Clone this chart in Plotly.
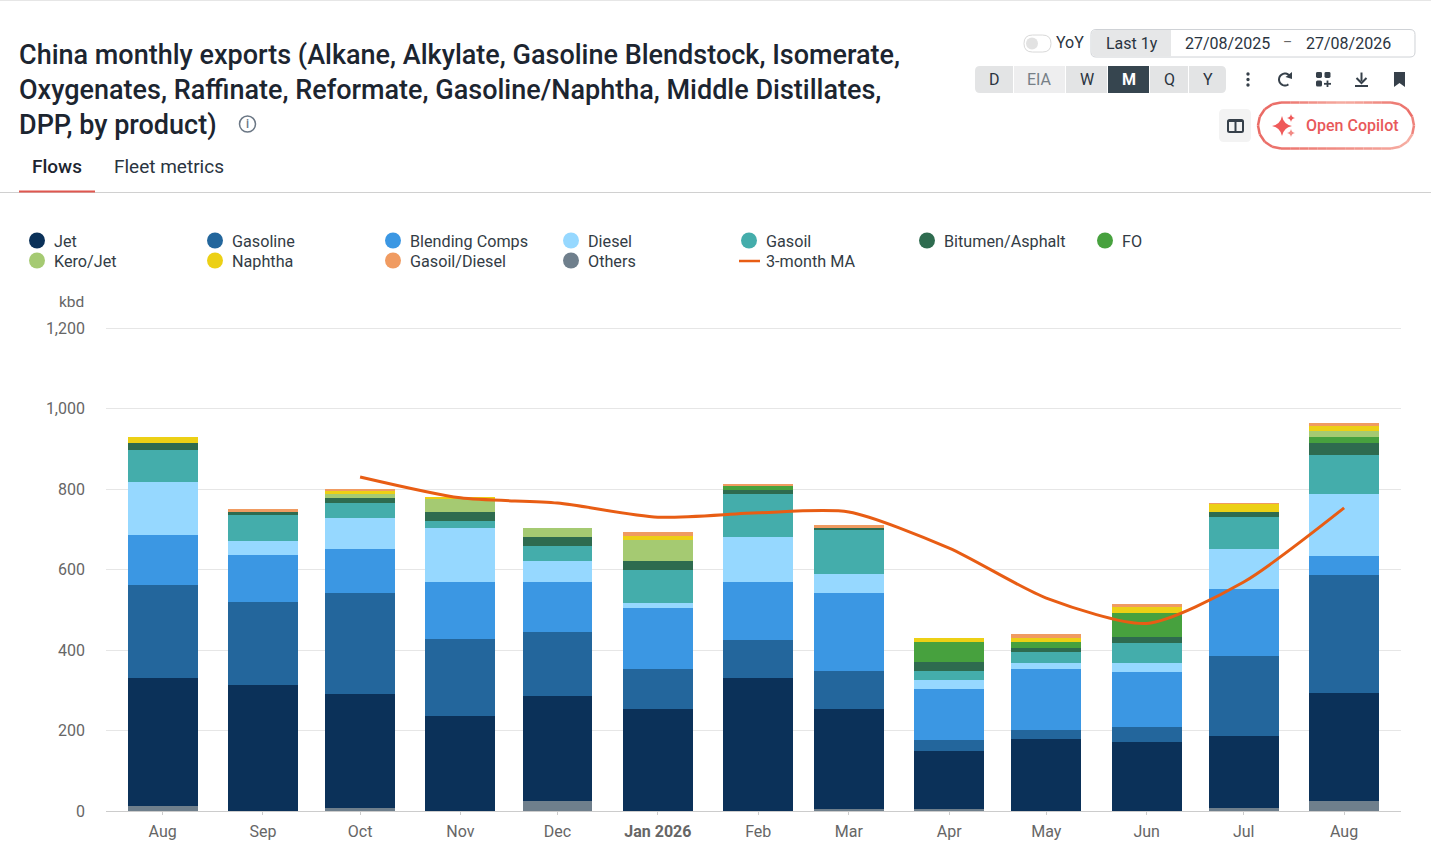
import math
import plotly.graph_objects as go

# ---------- data ----------
dates = ["2025-08-01", "2025-09-01", "2025-10-01", "2025-11-01", "2025-12-01", "2026-01-01", "2026-02-01",
         "2026-03-01", "2026-04-01", "2026-05-01", "2026-06-01", "2026-07-01", "2026-08-01"]
tick_labels = ["Aug", "Sep", "Oct", "Nov", "Dec", "<b>Jan 2026</b>", "Feb", "Mar", "Apr", "May", "Jun", "Jul", "Aug"]

others        = [12, 0, 7, 0, 26, 0, 0, 5, 6, 0, 0, 8, 26]
jet           = [318, 313, 283, 236, 260, 253, 330, 248, 143, 178, 172, 178, 267]
gasoline      = [231, 206, 251, 191, 159, 100, 94, 94, 27, 24, 36, 198, 293]
blending      = [124, 117, 111, 141, 124, 151, 144, 195, 128, 151, 138, 167, 47]
diesel        = [132, 35, 77, 136, 52, 14, 112, 48, 22, 15, 21, 100, 155]
gasoil        = [81, 64, 37, 16, 37, 82, 107, 108, 23, 26, 51, 80, 97]
bitumen       = [17, 7, 12, 22, 22, 22, 10, 5, 20, 10, 15, 12, 30]
fuel_oil      = [0, 0, 0, 0, 0, 0, 11, 0, 50, 17, 60, 0, 13]
kero_jet      = [0, 0, 10, 32, 24, 51, 0, 0, 0, 0, 0, 0, 16]
naphtha       = [13, 0, 8, 7, 0, 10, 0, 0, 10, 10, 15, 20, 12]
gasoil_diesel = [0, 9, 4, 0, 0, 9, 2, 7, 0, 10, 7, 2, 9]
ma_3m         = [None, None, 830, 778, 765, 730, 741, 743, 653, 529, 466, 569, 753]

y_ticks = [0, 200, 400, 600, 800, 1000, 1200]

# stack order, bottom to top
stack = [("Others", others, "#6f7f8c"), ("Jet", jet, "#0b3159"), ("Gasoline", gasoline, "#23669c"),
         ("Blending Comps", blending, "#3b97e3"), ("Diesel", diesel, "#96d8ff"), ("Gasoil", gasoil, "#44adab"),
         ("Bitumen/Asphalt", bitumen, "#2e6b4f"), ("FO", fuel_oil, "#47a13e"), ("Kero/Jet", kero_jet, "#a5ca72"),
         ("Naphtha", naphtha, "#ecd015"), ("Gasoil/Diesel", gasoil_diesel, "#f09b61")]
legend_rows = [["Jet", "Gasoline", "Blending Comps", "Diesel", "Gasoil", "Bitumen/Asphalt", "FO"],
               ["Kero/Jet", "Naphtha", "Gasoil/Diesel", "Others", "3-month MA"]]
MA_COLOR = "#e85d14"

# ---------- page geometry ----------
W, H = 1431, 865
L, R, T, B = 106, 1401, 328, 811
Y_MAX = 1205                                   # a little headroom so the 1,200 gridline is kept
PLOT_TOP = B - (B - T) * Y_MAX / 1200
FONT = "Roboto"
DARK = "#1c2530"

def px(x):
    return (x - L) / (R - L)

def py(y):
    return (B - y) / (B - PLOT_TOP)

def P(x, y):
    return f"{px(x):.5f},{py(y):.5f}"

shapes = []
annos = []

def path(d, fill=None, line=None, lw=1):
    shapes.append(dict(type="path", xref="paper", yref="paper", path=d, layer="above",
                       fillcolor=fill or "rgba(0,0,0,0)",
                       line=dict(color=line or "rgba(0,0,0,0)", width=lw if line else 0)))

def rrect(x0, y0, x1, y1, r=5, fill=None, line=None, lw=1, left=True, right=True):
    rl = r if left else 0
    rr = r if right else 0
    d = (f"M{P(x0 + rl, y0)} L{P(x1 - rr, y0)} Q{P(x1, y0)} {P(x1, y0 + rr)} L{P(x1, y1 - rr)} "
         f"Q{P(x1, y1)} {P(x1 - rr, y1)} L{P(x0 + rl, y1)} Q{P(x0, y1)} {P(x0, y1 - rl)} "
         f"L{P(x0, y0 + rl)} Q{P(x0, y0)} {P(x0 + rl, y0)} Z")
    path(d, fill, line, lw)

def seg(x0, y0, x1, y1, color, lw=1):
    path(f"M{P(x0, y0)} L{P(x1, y1)}", None, color, lw)

def circle(cx, cy, r, fill=None, line=None, lw=1):
    shapes.append(dict(type="circle", xref="paper", yref="paper", layer="above",
                       x0=px(cx - r), x1=px(cx + r), y0=py(cy + r), y1=py(cy - r),
                       fillcolor=fill or "rgba(0,0,0,0)",
                       line=dict(color=line or "rgba(0,0,0,0)", width=lw if line else 0)))

def star(cx, cy, r, color):
    k = r * 0.16
    path(f"M{P(cx, cy - r)} Q{P(cx + k, cy - k)} {P(cx + r, cy)} Q{P(cx + k, cy + k)} {P(cx, cy + r)} "
         f"Q{P(cx - k, cy + k)} {P(cx - r, cy)} Q{P(cx - k, cy - k)} {P(cx, cy - r)} Z", color)

def txt(x, y, text, size=16, color=DARK, anchor="left", weight=400):
    annos.append(dict(xref="paper", yref="paper", x=px(x), y=py(y), text=text, showarrow=False,
                      xanchor=anchor, yanchor="middle", borderpad=0, borderwidth=0,
                      font=dict(family=FONT, size=size, color=color, weight=weight)))

def mix(a, b, t):
    t = max(0, min(1, t))
    ca = [int(a[i:i + 2], 16) for i in (1, 3, 5)]
    cb = [int(b[i:i + 2], 16) for i in (1, 3, 5)]
    return "#" + "".join(f"{round(u + (v - u) * t):02x}" for u, v in zip(ca, cb))

# top hairline, tab rule
seg(0, 0.5, W, 0.5, "#e6e6e6", 1)
seg(0, 192.5, W, 192.5, "#d0d0d0", 1)
seg(19, 191.5, 95, 191.5, "#e0574f", 2)

# title
txt(19, 55, "China monthly exports (Alkane, Alkylate, Gasoline Blendstock, Isomerate,", 27, DARK, weight=500)
txt(19, 90, "Oxygenates, Raffinate, Reformate, Gasoline/Naphtha, Middle Distillates,", 27, DARK, weight=500)
txt(19, 125, "DPP, by product)", 27, DARK, weight=500)
circle(247.5, 124, 8, None, "#6b7785", 1.5)
txt(247.5, 124, "i", 12, "#6b7785", "center", 500)

# tabs
txt(32, 166.5, "Flows", 19, DARK, weight=500)
txt(114, 166.5, "Fleet metrics", 19, "#2a3440")

# YoY toggle + date box
rrect(1024, 35, 1051, 52, 8.5, "#ffffff", "#d9d9d9", 1)
circle(1032, 43.5, 6, "#e2e2e2")
txt(1056, 42, "YoY", 16, "#2a3440")
rrect(1091, 29.5, 1415, 57, 5, "#ffffff", "#cfd2d6", 1)
rrect(1091.5, 30, 1171, 56.5, 5, "#e6e7e8", None, right=False)
txt(1132, 43, "Last 1y", 16, "#2a3440", "center")
txt(1227, 43, "27/08/2025", 16, "#2a3440", "center")
txt(1287, 42, "–", 14, "#666666", "center")
txt(1348, 43, "27/08/2026", 16, "#2a3440", "center")

# frequency buttons
buttons = [("D", 975, 1013, "#e3e4e5", "#2a3440"), ("EIA", 1014, 1065, "#eeeeef", "#777f87"),
           ("W", 1066, 1107, "#e3e4e5", "#2a3440"), ("M", 1108, 1149, "#36454f", "#ffffff"),
           ("Q", 1150, 1188, "#e3e4e5", "#2a3440"), ("Y", 1189, 1226, "#e3e4e5", "#2a3440")]
for i, (lab, x0, x1, fill, col) in enumerate(buttons):
    rrect(x0, 66, x1, 93, 5, fill, None, left=(i == 0), right=(i == len(buttons) - 1))
    txt((x0 + x1) / 2, 79.5, lab, 16, col, "center", 700 if lab == "M" else 400)

# toolbar icons
ICON = "#36404a"
for yy in (74, 79.5, 85):
    circle(1248, yy, 1.7, ICON)
pts = []
for i in range(21):
    a = math.radians(-25 - i * 14)
    pts.append(P(1285 + 6 * math.cos(a), 79.5 + 6 * math.sin(a)))
path("M" + " L".join(pts), None, ICON, 2)
path(f"M{P(1292, 72)} L{P(1292, 79)} L{P(1285.5, 77)} Z", ICON)
rrect(1316, 72, 1322, 78, 1.5, ICON)
rrect(1324.5, 72, 1330.5, 78, 1.5, ICON)
rrect(1316, 80.5, 1322, 86.5, 1.5, ICON)
seg(1327.5, 80.5, 1327.5, 87, ICON, 1.8)
seg(1324, 83.8, 1331, 83.8, ICON, 1.8)
seg(1361.5, 72.5, 1361.5, 81, ICON, 2)
path(f"M{P(1356.5, 78)} L{P(1361.5, 83)} L{P(1366.5, 78)}", None, ICON, 2)
seg(1355, 86, 1368, 86, ICON, 2)
path(f"M{P(1394, 72)} L{P(1405, 72)} L{P(1405, 87)} L{P(1399.5, 83)} L{P(1394, 87)} Z", ICON)

# layout button
rrect(1219, 109, 1251, 142, 5, "#f3f3f3")
rrect(1228, 120, 1243, 132, 1.5, None, ICON, 2)
seg(1235.5, 120, 1235.5, 132, ICON, 2)
seg(1228, 121, 1243, 121, ICON, 2)

# copilot pill: outline with a soft gradient, built from short strokes
PX0, PX1, PY0, PY1 = 1258, 1414, 102.5, 148.5
RAD = (PY1 - PY0) / 2
RED, PINK = "#ea6b65", "#f6aea3"
cy_p = (PY0 + PY1) / 2
outline = []
for i in range(13):                              # top edge, left to right
    outline.append((PX0 + RAD + (PX1 - PX0 - 2 * RAD) * i / 12, PY0))
for i in range(1, 9):                            # right cap
    a = -math.pi / 2 + math.pi * i / 8
    outline.append((PX1 - RAD + RAD * math.cos(a), cy_p + RAD * math.sin(a)))
for i in range(1, 13):                           # bottom edge, right to left
    outline.append((PX1 - RAD - (PX1 - PX0 - 2 * RAD) * i / 12, PY1))
for i in range(1, 9):                            # left cap
    a = math.pi / 2 + math.pi * i / 8
    outline.append((PX0 + RAD + RAD * math.cos(a), cy_p + RAD * math.sin(a)))

def pill_color(x, y):
    u = (x - PX0) / (PX1 - PX0)
    if y < cy_p - 5:                             # top: red, pink mid-way, red again at the right
        return mix(RED, PINK, 1 - abs(u - 0.55) / 0.45)
    if y > cy_p + 5:                             # bottom: red on the left, pink on the right
        return mix(RED, PINK, u)
    return RED if u < 0.5 else mix(RED, PINK, 0.35)

for (xa, ya), (xb, yb) in zip(outline[:-1], outline[1:]):
    seg(xa, ya, xb, yb, pill_color((xa + xb) / 2, (ya + yb) / 2), 2.5)

star(1282, 126, 10, "#ef5a5a")
star(1291, 118, 4, "#ef5a5a")
star(1291, 133, 4, "#f28a85")
txt(1352, 125, "Open Copilot", 16, "#e8595a", "center", 500)

# axis unit
txt(71, 302, "kbd", 15.5, "#666666", "center")

# legend, in a fixed 178 px grid with a 20 px row pitch
colors = {n: c for n, _, c in stack}
for r, row in enumerate(legend_rows):
    for c, name in enumerate(row):
        cx = 37 + 178 * c
        cy = 240.5 + 20 * r
        if name == "3-month MA":
            seg(cx - 10, cy + 0.5, cx + 11, cy + 0.5, MA_COLOR, 2.5)
        else:
            circle(cx, cy, 8, colors[name])
        txt(cx + 17, cy + 1, name, 16.2, "#333c45")

# ---------- traces ----------
fig = go.Figure()
BAR_MS = 21.6 * 86400000
for name, vals, color in stack:
    fig.add_trace(go.Bar(x=dates, y=vals, name=name, width=BAR_MS, marker=dict(color=color, line=dict(width=0))))
fig.add_trace(go.Scatter(x=dates, y=ma_3m, mode="lines", name="3-month MA",
                         line=dict(color=MA_COLOR, width=3, shape="spline", smoothing=0.7)))

fig.update_layout(
    width=W, height=H, barmode="stack", bargap=0, plot_bgcolor="white", paper_bgcolor="white",
    margin=dict(l=L, r=W - R, t=PLOT_TOP, b=H - B, pad=0, autoexpand=False),
    font=dict(family=FONT, size=16, color="#666666"), showlegend=False,
    xaxis=dict(type="date", range=["2025-07-14 12:00", "2026-08-18 14:00"], tickmode="array", tickvals=dates,
               ticktext=tick_labels, ticks="outside", ticklen=3, tickcolor="#cccccc", showgrid=False,
               showline=True, linecolor="#cccccc", linewidth=1, zeroline=False, ticklabelstandoff=3,
               tickfont=dict(family=FONT, size=16, color="#666666")),
    yaxis=dict(range=[0, Y_MAX], tickmode="array", tickvals=y_ticks, tickformat=",d", showgrid=True,
               gridcolor="#e6e6e6", gridwidth=1, zeroline=False, showline=False, ticks="", ticklabelstandoff=20,
               tickfont=dict(family=FONT, size=16, color="#666666")),
    shapes=shapes, annotations=annos, hovermode="x",
)

fig.write_html("out.html", config=dict(displayModeBar=False),
               post_script="document.body.style.margin='0';document.body.style.overflow='hidden';")
